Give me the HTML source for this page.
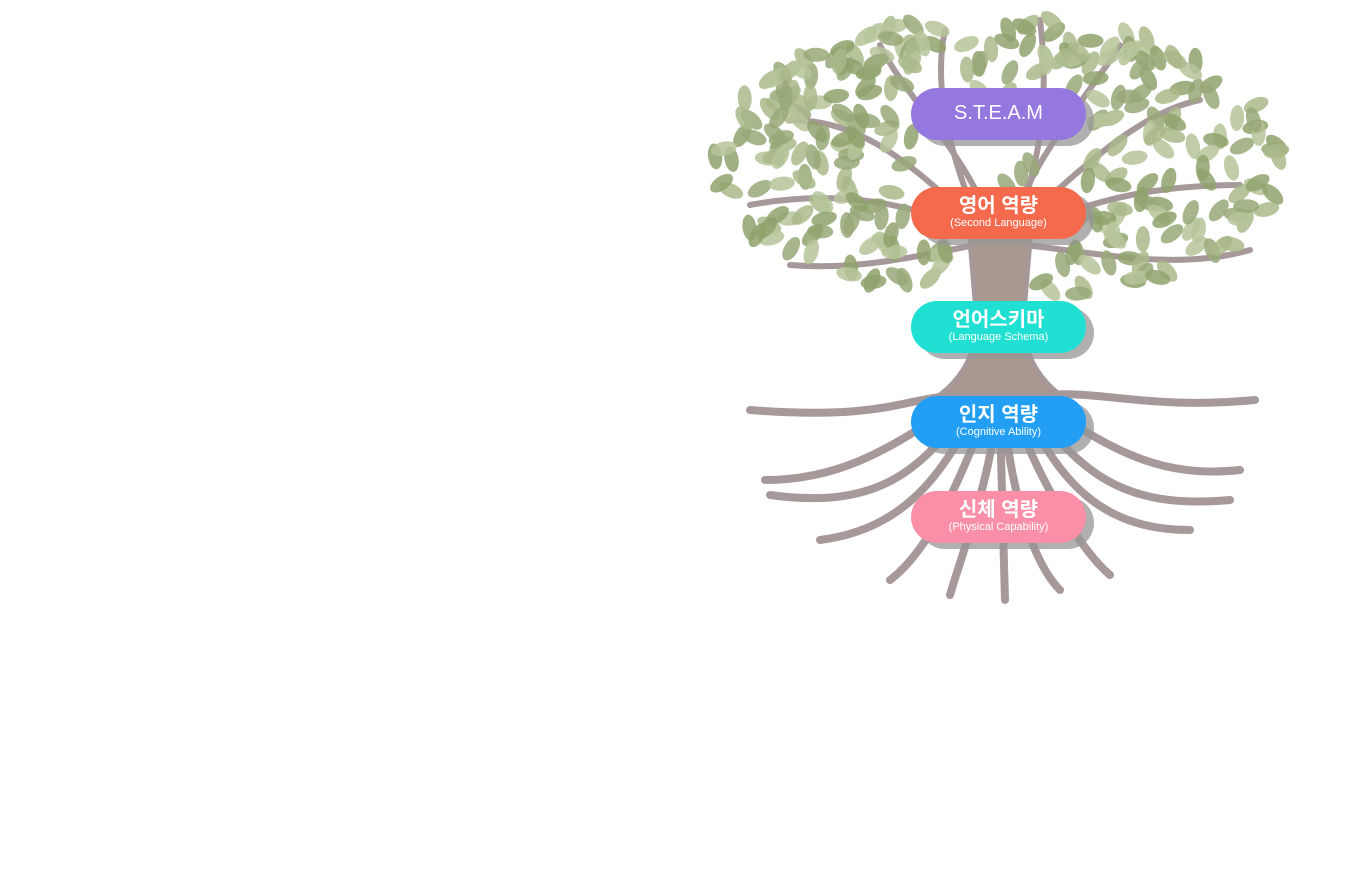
<!DOCTYPE html>
<html><head><meta charset="utf-8"><style>
body{margin:0;width:1360px;height:891px;background:#fff;overflow:hidden;position:relative;font-family:"Liberation Sans","Noto Sans CJK KR",sans-serif}
.p{position:absolute;left:911px;width:175px;height:52px;border-radius:26px;color:#fff;text-align:center;box-shadow:8px 6px 0 rgba(150,150,150,.75)}
.p b{display:block;font-size:20px;line-height:22px;margin-top:8px;font-weight:bold}
.p s{display:block;text-decoration:none;font-size:11px;line-height:13px}
</style></head><body>
<svg id="t" width="1360" height="891" style="position:absolute;left:0;top:0">
<g stroke="#9d8d8e" fill="none" stroke-linecap="round" opacity=".9">
<path d="M940 395 Q985 360 975 300 L970 240 L1030 240 L1025 300 Q1015 360 1060 395 Z" fill="#a08c84" stroke-width="5"/>
<path d="M985 240 C960 180 930 100 945 30 M1010 240 C1040 170 1050 100 1040 20 M975 230 C900 200 830 190 750 205 M1025 230 C1100 195 1170 185 1240 185 M970 220 C900 150 850 120 790 120 M1030 215 C1100 150 1150 110 1200 100 M975 245 C900 260 850 270 790 265 M1025 245 C1110 255 1180 270 1250 250 M990 230 C980 170 900 90 880 45 M1010 230 C1030 160 1100 80 1120 45" stroke-width="6"/>
<path d="M955 395 C900 400 880 420 750 410 M1045 395 C1100 390 1150 410 1255 400 M965 400 C900 440 850 480 765 480 M1035 400 C1100 440 1150 480 1240 470 M970 405 C920 470 880 510 770 495 M1030 405 C1080 470 1120 510 1230 500 M975 410 C940 480 900 530 820 540 M1025 410 C1060 480 1100 530 1190 530 M985 415 C960 480 930 550 890 580 M1015 415 C1040 480 1080 550 1110 575 M995 420 C990 480 960 560 950 595 M1005 420 C1010 480 1030 560 1060 590 M1000 420 L1005 600" stroke-width="8"/>
</g>
<g id="lv"></g>
</svg>
<div class="p" style="top:88px;background:#9478e0"><b style="margin-top:14px;font-weight:normal">S.T.E.A.M</b></div>
<div class="p" style="top:187px;background:#f5694c"><b>영어 역량</b><s>(Second Language)</s></div>
<div class="p" style="top:301px;background:#1fe0d2"><b>언어스키마</b><s>(Language Schema)</s></div>
<div class="p" style="top:396px;background:#229ff4"><b>인지 역량</b><s>(Cognitive Ability)</s></div>
<div class="p" style="top:491px;background:#fb8fa8"><b>신체 역량</b><s>(Physical Capability)</s></div>
<script>
var s=7,g=document.getElementById('lv'),h='';function r(){s=(s*9301+49297)%233280;return s/233280}
for(var i=0;i<480;i++){var x=715+r()*570,y=20+r()*280;
var dx=(x-997)/285,dy=(y-165)/(y<165?150:140);if(dx*dx+dy*dy>1)continue;
if(x>905&&x<1095&&y>80&&y<250&&r()<.75)continue;
if(x>955&&x<1040&&y>240)continue;
var c=['#8fa26c','#a9b98a','#98a878','#b6c49a'][i%4];
h+='<ellipse cx="'+x.toFixed(1)+'" cy="'+y.toFixed(1)+'" rx="13" ry="7" fill="'+c+'" opacity=".85" transform="rotate('+(r()*180|0)+' '+x.toFixed(1)+' '+y.toFixed(1)+')"/>'}
g.innerHTML=h;
</script>
</body></html>
